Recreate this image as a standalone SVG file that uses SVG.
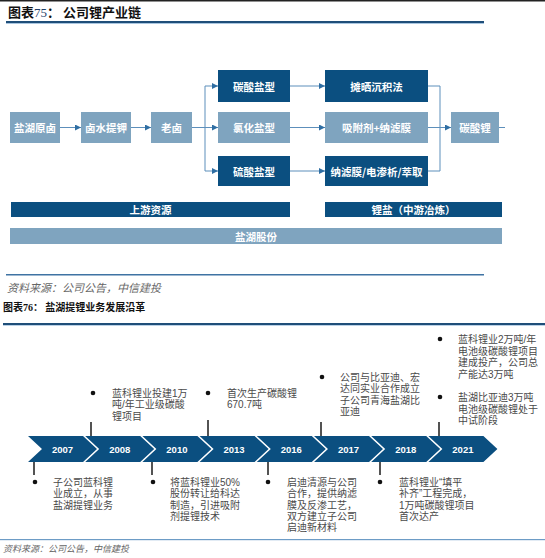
<svg xmlns="http://www.w3.org/2000/svg" width="545" height="558" viewBox="0 0 545 558">
<defs>
<style>
.cjk{font-family:"Liberation Sans","Noto Sans CJK SC",sans-serif}
.box-d{fill:#0b4f80}
.box-l{fill:#7fa4bf}
.bt{font-family:"Noto Sans CJK SC","Liberation Sans",sans-serif;font-size:10.5px;font-weight:bold;fill:#ffffff;text-anchor:middle;dominant-baseline:central}
.conn{stroke:#5d8fbb;stroke-width:1;fill:none}
.chev{fill:#0b4f80}
.yr{font-family:"Liberation Sans",Arial,sans-serif;font-size:9.5px;font-weight:bold;fill:#ffffff;text-anchor:middle;dominant-baseline:central}
.tl{font-family:"Liberation Sans","Noto Sans CJK SC",sans-serif;font-size:10px;fill:#4a4a4a;dominant-baseline:central}
.tick{stroke:#1a1a1a;stroke-width:1.5}
.dot{fill:#111111}
.src{font-family:"Liberation Serif","Noto Sans CJK SC",serif;font-style:italic;fill:#666666}
.ttl{font-family:"Noto Sans CJK SC","Liberation Sans",sans-serif;font-weight:bold;fill:#111111}
</style>
<marker id="ah" viewBox="0 0 6 6" refX="6" refY="3" markerWidth="6" markerHeight="6" markerUnits="userSpaceOnUse" orient="auto">
<path d="M0,0 L6,3 L0,6 Z" fill="#2f6ea3"/>
</marker>
</defs>
<rect x="0" y="0" width="545" height="558" fill="#ffffff"/>
<rect x="0" y="0" width="545" height="1.5" fill="#222222"/>

<!-- Figure 75 header -->
<text x="8" y="17" class="ttl" font-size="13">图表<tspan font-family="Liberation Serif,serif" font-weight="normal" fill="#1f3f6a">75</tspan>：  公司锂产业链</text>
<rect x="6" y="21" width="478" height="2" fill="#1f4e79"/>
<rect x="6" y="23" width="478" height="1" fill="#a9c6e0"/>

<!-- connectors -->
<g id="connectors">
<line class="conn" x1="60" y1="127.5" x2="81" y2="127.5" marker-end="url(#ah)"/>
<line class="conn" x1="131" y1="127.5" x2="151" y2="127.5" marker-end="url(#ah)"/>
<line class="conn" x1="192" y1="127.5" x2="218" y2="127.5" marker-end="url(#ah)"/>
<line class="conn" x1="205" y1="86" x2="205" y2="171"/>
<line class="conn" x1="205" y1="86" x2="218" y2="86" marker-end="url(#ah)"/>
<line class="conn" x1="205" y1="171" x2="218" y2="171" marker-end="url(#ah)"/>
<line class="conn" x1="290" y1="86" x2="325" y2="86" marker-end="url(#ah)"/>
<line class="conn" x1="290" y1="127.5" x2="325" y2="127.5" marker-end="url(#ah)"/>
<line class="conn" x1="290" y1="171" x2="325" y2="171" marker-end="url(#ah)"/>
<line class="conn" x1="428" y1="86" x2="440" y2="86"/>
<line class="conn" x1="428" y1="171" x2="440" y2="171"/>
<line class="conn" x1="440" y1="86" x2="440" y2="171"/>
<line class="conn" x1="428" y1="127.5" x2="451" y2="127.5" marker-end="url(#ah)"/>
<line class="conn" x1="499" y1="127.5" x2="505" y2="127.5"/>
</g>

<g id="n-yhyl"><rect class="box-l" x="10" y="112" width="50" height="31"/><text class="bt" x="35" y="127.5">盐湖原卤</text></g>
<g id="n-lsti"><rect class="box-l" x="81" y="112" width="50" height="31"/><text class="bt" x="106" y="127.5">卤水提钾</text></g>
<g id="n-laolu"><rect class="box-l" x="151" y="112" width="41" height="31"/><text class="bt" x="171.5" y="127.5">老卤</text></g>
<g id="n-tsy"><rect class="box-d" x="218" y="70" width="72" height="32"/><text class="bt" x="254" y="86">碳酸盐型</text></g>
<g id="n-lhy"><rect class="box-l" x="218" y="112" width="72" height="31"/><text class="bt" x="254" y="127.5">氯化盐型</text></g>
<g id="n-lsy"><rect class="box-d" x="218" y="156" width="72" height="30"/><text class="bt" x="254" y="171">硫酸盐型</text></g>
<g id="n-tscj"><rect class="box-d" x="325" y="70" width="103" height="32"/><text class="bt" x="376.5" y="86">摊晒沉积法</text></g>
<g id="n-xfj"><rect class="box-l" x="325" y="112" width="103" height="31"/><text class="bt" x="376.5" y="127.5">吸附剂+纳滤膜</text></g>
<g id="n-nlm"><rect class="box-d" x="325" y="156" width="103" height="30"/><text class="bt" x="376.5" y="171">纳滤膜/电渗析/萃取</text></g>
<g id="n-tsl"><rect class="box-l" x="451" y="112" width="48" height="31"/><text class="bt" x="475" y="127.5">碳酸锂</text></g>

<g id="bar-up"><rect class="box-d" x="11" y="202" width="279" height="15"/><text class="bt" x="150.5" y="209.5">上游资源</text></g>
<g id="bar-mid"><rect class="box-d" x="325" y="202" width="177" height="15"/><text class="bt" x="413.5" y="209.5">锂盐（中游冶炼）</text></g>
<g id="bar-yh"><rect class="box-l" x="10" y="228" width="492" height="16"/><text class="bt" x="256" y="236">盐湖股份</text></g>

<rect x="6" y="274" width="478" height="1.5" fill="#3f73a3"/>
<text x="7" y="292" class="src" font-size="11">资料来源：公司公告，中信建投</text>

<!-- Figure 76 header -->
<text x="3" y="311" class="ttl" font-size="10">图表<tspan font-family="Liberation Serif,serif" font-weight="bold">76</tspan>：  盐湖提锂业务发展沿革</text>
<rect x="3" y="323" width="542" height="2" fill="#1f4e79"/>
<rect x="3" y="325" width="542" height="0.8" fill="#a9c6e0"/>

<!-- timeline chevrons -->
<g id="timeline">
<g id="y2007"><path class="chev" d="M28,436 L83,436 L97,449 L83,462 L28,462 L42,449 Z"/><text class="yr" x="62.5" y="449">2007</text></g>
<g id="y2008"><path class="chev" d="M85.2,436 L140.2,436 L154.2,449 L140.2,462 L85.2,462 L99.2,449 Z"/><text class="yr" x="119.7" y="449">2008</text></g>
<g id="y2010"><path class="chev" d="M142.4,436 L197.4,436 L211.4,449 L197.4,462 L142.4,462 L156.4,449 Z"/><text class="yr" x="176.9" y="449">2010</text></g>
<g id="y2013"><path class="chev" d="M199.6,436 L254.6,436 L268.6,449 L254.6,462 L199.6,462 L213.6,449 Z"/><text class="yr" x="234.1" y="449">2013</text></g>
<g id="y2016"><path class="chev" d="M256.8,436 L311.8,436 L325.8,449 L311.8,462 L256.8,462 L270.8,449 Z"/><text class="yr" x="291.3" y="449">2016</text></g>
<g id="y2017"><path class="chev" d="M314,436 L369,436 L383,449 L369,462 L314,462 L328,449 Z"/><text class="yr" x="348.5" y="449">2017</text></g>
<g id="y2018"><path class="chev" d="M371.2,436 L426.2,436 L440.2,449 L426.2,462 L371.2,462 L385.2,449 Z"/><text class="yr" x="405.7" y="449">2018</text></g>
<g id="y2021"><path class="chev" d="M428.4,436 L483.4,436 L497.4,449 L483.4,462 L428.4,462 L442.4,449 Z"/><text class="yr" x="462.9" y="449">2021</text></g>
</g>

<!-- events above -->
<g id="e2008">
<line class="tick" x1="91" y1="422" x2="91" y2="436"/>
<circle class="dot" cx="93" cy="393" r="2.3"/>
<text class="tl" x="112"><tspan x="112" y="393">蓝科锂业投建1万</tspan><tspan x="112" y="404.3">吨/年工业级碳酸</tspan><tspan x="112" y="415.6">锂项目</tspan></text>
</g>
<g id="e2013">
<line class="tick" x1="208" y1="420" x2="208" y2="436"/>
<circle class="dot" cx="208" cy="393" r="2.3"/>
<text class="tl"><tspan x="227" y="393">首次生产碳酸锂</tspan><tspan x="227" y="404.3">670.7吨</tspan></text>
</g>
<g id="e2017">
<line class="tick" x1="321" y1="422" x2="321" y2="436"/>
<circle class="dot" cx="322" cy="377" r="2.3"/>
<text class="tl"><tspan x="340" y="377">公司与比亚迪、宏</tspan><tspan x="340" y="388.3">达同实业合作成立</tspan><tspan x="340" y="399.6">子公司青海盐湖比</tspan><tspan x="340" y="410.9">亚迪</tspan></text>
</g>
<g id="e2021">
<line class="tick" x1="439" y1="422" x2="439" y2="436"/>
<circle class="dot" cx="440" cy="339" r="2.3"/>
<text class="tl"><tspan x="458" y="339">蓝科锂业2万吨/年</tspan><tspan x="458" y="350.7">电池级碳酸锂项目</tspan><tspan x="458" y="362.4">建成投产，公司总</tspan><tspan x="458" y="374.1">产能达3万吨</tspan></text>
<circle class="dot" cx="440" cy="397" r="2.3"/>
<text class="tl"><tspan x="458" y="397">盐湖比亚迪3万吨</tspan><tspan x="458" y="408.5">电池级碳酸锂处于</tspan><tspan x="458" y="420">中试阶段</tspan></text>
</g>

<!-- events below -->
<g id="e2007">
<line class="tick" x1="34" y1="462" x2="34" y2="475"/>
<circle class="dot" cx="35" cy="482" r="2.3"/>
<text class="tl"><tspan x="53" y="482">子公司蓝科锂</tspan><tspan x="53" y="493.3">业成立，从事</tspan><tspan x="53" y="504.6">盐湖提锂业务</tspan></text>
</g>
<g id="e2010">
<line class="tick" x1="152" y1="462" x2="152" y2="475"/>
<circle class="dot" cx="153" cy="482" r="2.3"/>
<text class="tl"><tspan x="170" y="482">将蓝科锂业50%</tspan><tspan x="170" y="493.3">股份转让给科达</tspan><tspan x="170" y="504.6">制造，引进吸附</tspan><tspan x="170" y="515.9">剂提锂技术</tspan></text>
</g>
<g id="e2016">
<line class="tick" x1="268" y1="462" x2="268" y2="475"/>
<circle class="dot" cx="268" cy="482" r="2.3"/>
<text class="tl"><tspan x="287" y="482">启迪清源与公司</tspan><tspan x="287" y="493.3">合作，提供纳滤</tspan><tspan x="287" y="504.6">膜及反渗工艺，</tspan><tspan x="287" y="515.9">双方建立子公司</tspan><tspan x="287" y="527.2">启迪新材料</tspan></text>
</g>
<g id="e2018">
<line class="tick" x1="380" y1="462" x2="380" y2="475"/>
<circle class="dot" cx="380" cy="482" r="2.3"/>
<text class="tl"><tspan x="399" y="482">蓝科锂业“填平</tspan><tspan x="399" y="493.3">补齐”工程完成，</tspan><tspan x="399" y="504.6">1万吨碳酸锂项目</tspan><tspan x="399" y="515.9">首次达产</tspan></text>
</g>

<rect x="0" y="539" width="545" height="1.2" fill="#6d9cc6"/>
<text x="3" y="552" class="src" font-size="9">资料来源：公司公告，中信建投</text>
</svg>
